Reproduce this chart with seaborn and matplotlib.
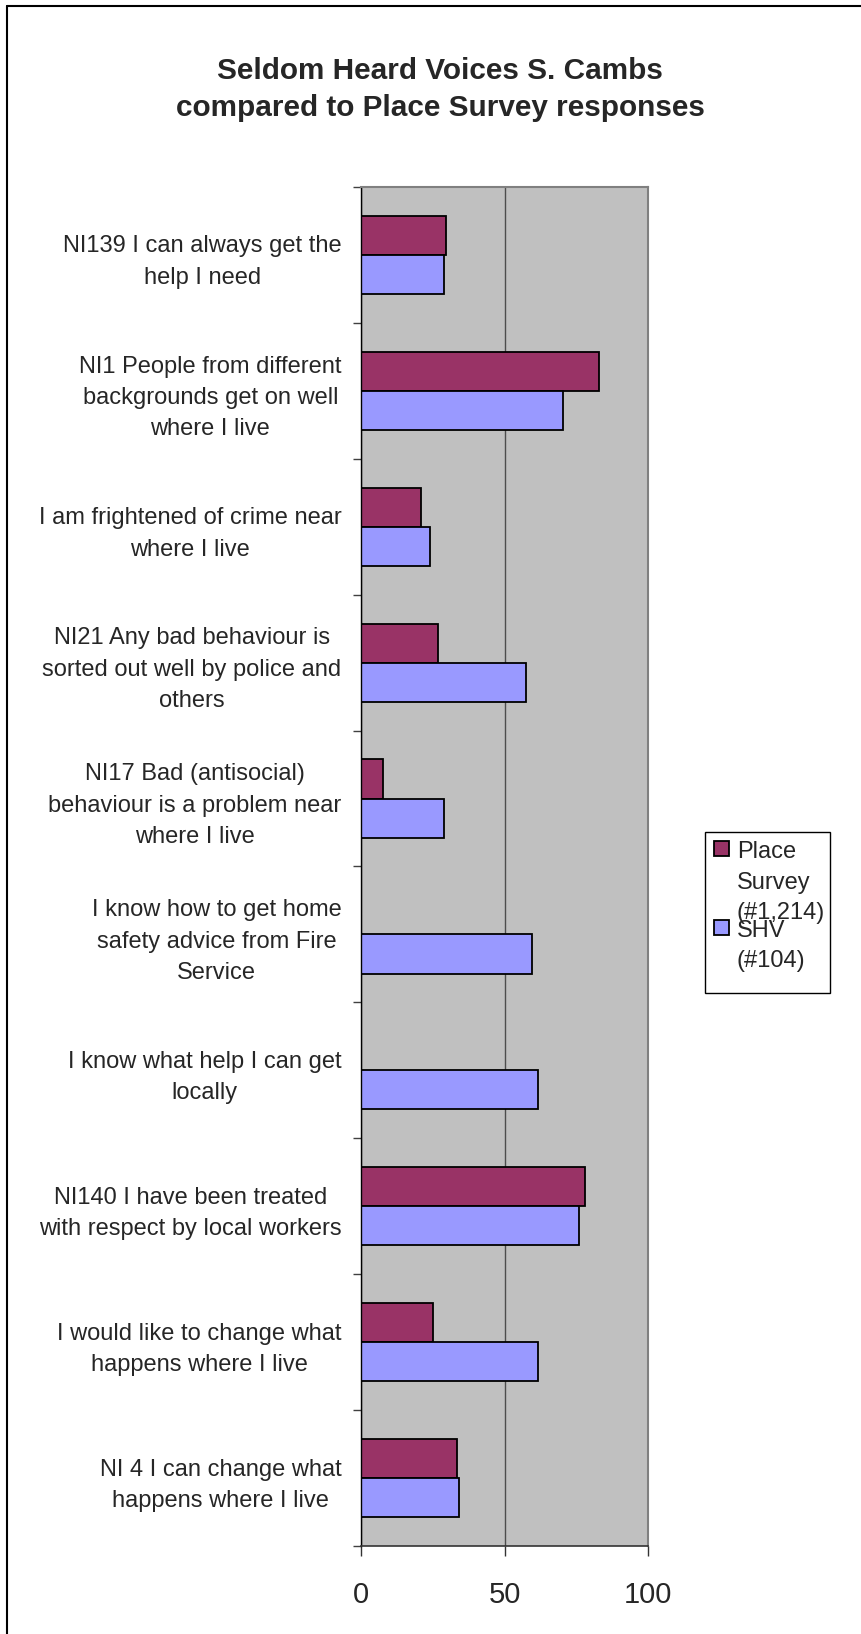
import numpy as np
import pandas as pd
import matplotlib
matplotlib.use('Agg')
import matplotlib.pyplot as plt
import seaborn as sns

# Datos (porcentaje de respuestas)
preguntas = [
    "NI139 I can always get the\nhelp I need",
    "NI1 People from different\nbackgrounds get on well\nwhere I live",
    "I am frightened of crime near\nwhere I live",
    "NI21 Any bad behaviour is\nsorted out well by police and\nothers",
    "NI17 Bad (antisocial)\nbehaviour is a problem near\nwhere I live",
    "I know how to get home\nsafety advice from Fire\nService",
    "I know what help I can get\nlocally",
    "NI140 I have been treated\nwith respect by local workers",
    "I would like to change what\nhappens where I live",
    "NI 4 I can change what\nhappens where I live",
]
place_survey = [29.5, 83, 21, 27, 7.5, np.nan, np.nan, 78, 25, 33.5]
shv = [29, 70.5, 24, 57.5, 29, 59.5, 61.5, 76, 61.5, 34]
series = ["Place\nSurvey\n(#1,214)", "SHV\n(#104)"]
colores = ["#993366", "#9999FF"]
xticks = [0, 50, 100]

df = pd.DataFrame({
    "pregunta": preguntas * 2,
    "serie": [series[0]] * len(preguntas) + [series[1]] * len(preguntas),
    "valor": place_survey + shv,
})

sns.set_style("white")
plt.rcParams['font.family'] = ['Liberation Sans', 'DejaVu Sans']

fig = plt.figure(figsize=(8.61, 16.34), dpi=100)
ax = fig.add_axes([361 / 861, 88 / 1634, 287 / 861, 1359 / 1634])

sns.barplot(data=df, x="valor", y="pregunta", hue="serie", orient="h",
            order=preguntas, hue_order=series, palette=colores, saturation=1,
            width=0.575, edgecolor="black", linewidth=1.3, errorbar=None,
            ax=ax)

ax.set_facecolor("#C0C0C0")
ax.set_xlim(0, 100)
ax.set_ylim(len(preguntas) - 0.5, -0.5)
ax.set_xlabel("")
ax.set_ylabel("")

# linea de rejilla vertical
ax.grid(axis="x", color="#4d4d4d", linewidth=1)
ax.set_axisbelow(True)

for lado in ["top", "right"]:
    ax.spines[lado].set_color("#808080")
    ax.spines[lado].set_linewidth(1.5)
ax.spines["bottom"].set_color("#333333")
ax.spines["bottom"].set_linewidth(1.2)
ax.spines["left"].set_color("black")
ax.spines["left"].set_linewidth(1)

ax.set_xticks(xticks)
ax.set_xticklabels([str(t) for t in xticks], fontsize=21)
ax.tick_params(axis="x", direction="out", length=7, width=1, color="#333333",
               pad=18, bottom=True)

ax.set_yticks(range(len(preguntas)))
ax.set_yticklabels(preguntas, fontsize=17)
ax.set_yticks(np.arange(-0.5, len(preguntas), 1), minor=True)
ax.tick_params(axis="y", which="major", length=0, pad=14, left=True)
ax.tick_params(axis="y", which="minor", direction="out", length=6, width=1,
               color="#404040", left=True)
for lab in ax.get_yticklabels():
    lab.set_multialignment("center")
    lab.set_linespacing(1.55)

# leyenda (el marco se dibuja aparte)
handles, labels = ax.get_legend_handles_labels()
leg = ax.legend(handles, labels, loc="upper left",
                bbox_to_anchor=(705 / 861, 1 - 832 / 1634),
                bbox_transform=fig.transFigure, frameon=False,
                fontsize=17, handlelength=0.6, handleheight=0.6,
                handletextpad=0.35, borderpad=0.4, labelspacing=-0.2, borderaxespad=0)
for t in leg.get_texts():
    t.set_linespacing(1.5)
for col in leg._legend_handle_box.get_children():
    for item in col.get_children():
        item.align = "top"
fig.add_artist(plt.Rectangle((705 / 861, 1 - 993 / 1634), 125 / 861, 161 / 1634,
                             transform=fig.transFigure, fill=False,
                             edgecolor="black", lw=1))

fig.text(440 / 861, 1 - 89.5 / 1634,
         "Seldom Heard Voices S. Cambs\ncompared to Place Survey responses",
         ha="center", va="center", fontsize=21.4, fontweight="bold", linespacing=1.45)

# borde del area del grafico
fig.add_artist(plt.Line2D([7 / 861, 1], [1 - 6 / 1634, 1 - 6 / 1634],
                          transform=fig.transFigure, color="black", lw=1.5))
fig.add_artist(plt.Line2D([7 / 861, 7 / 861], [0, 1 - 6 / 1634],
                          transform=fig.transFigure, color="black", lw=1.5))

fig.savefig("out.png", dpi=100, facecolor="white")
